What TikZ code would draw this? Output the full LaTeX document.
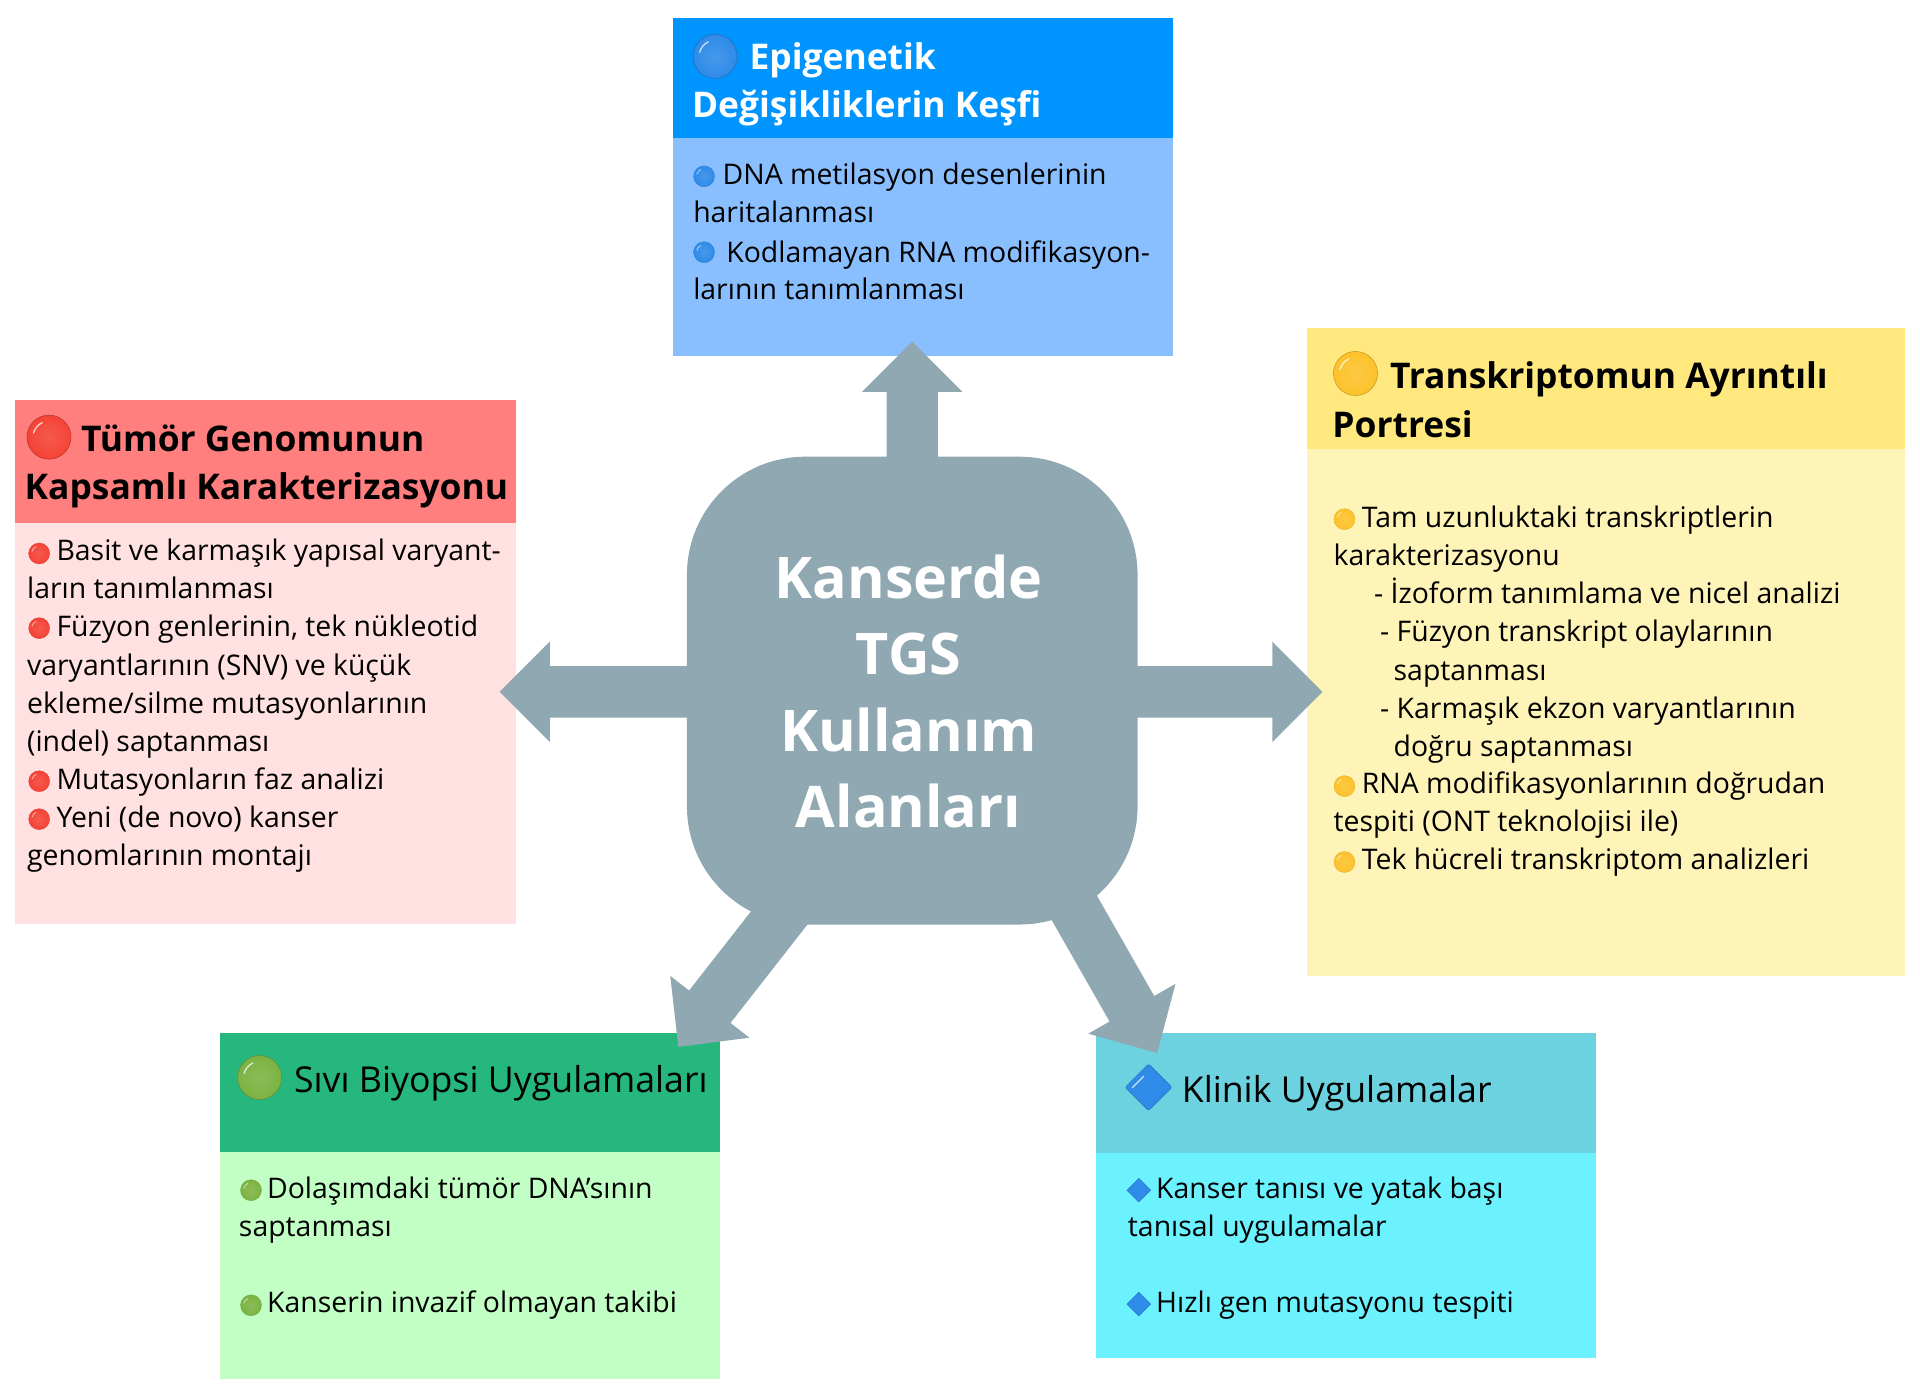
\documentclass[tikz,border=0pt]{standalone}
\usepackage{fontspec}
\setmainfont{Open Sans}
\usetikzlibrary{calc,fit,shapes.geometric}
\definecolor{hubc}{HTML}{90A8B2}
\definecolor{bluehd}{HTML}{0094FF}\definecolor{bluebd}{HTML}{8ABFFF}\definecolor{blueball}{HTML}{2E8BE8}
\definecolor{redhd}{HTML}{FF7F7F}\definecolor{redbd}{HTML}{FFE1E1}\definecolor{redball}{HTML}{F44336}
\definecolor{yelhd}{HTML}{FFE97F}\definecolor{yelbd}{HTML}{FFF4B8}\definecolor{yelball}{HTML}{FDC22B}
\definecolor{grnhd}{HTML}{26B77F}\definecolor{grnbd}{HTML}{C2FFC4}\definecolor{grnball}{HTML}{7CB342}
\definecolor{cyahd}{HTML}{6DD2E0}\definecolor{cyabd}{HTML}{6CF2FF}
\tikzset{
  panel/.style={inner sep=0pt,outer sep=0pt,draw=none},
  bodytxt/.style={anchor=base west,inner sep=0pt,font=\fontsize{28.4}{33}\selectfont,text=black},
  boldttl/.style={anchor=base west,inner sep=0pt,font=\fontsize{35.4}{40}\bfseries\selectfont,text=black},
  regttl/.style={anchor=base west,inner sep=0pt,font=\fontsize{35.7}{40}\selectfont,text=black},
  hubtxt/.style={anchor=base,inner sep=0pt,font=\fontsize{57.4}{60}\bfseries\selectfont,text=white},
  ballbig/.style={circle,inner sep=0pt,minimum size=44pt,draw=#1!80!black,line width=.6pt,
    inner color=#1!88!white,outer color=#1,
    path picture={\draw[white,opacity=.75,line width=1.3pt,line cap=round]
      (path picture bounding box.center) ++(165:16pt) arc (165:115:16pt);}},
  ballsm/.style={circle,inner sep=0pt,minimum size=21pt,draw=#1!90!black,line width=.3pt,
    inner color=#1!88!white,outer color=#1,
    path picture={\draw[white,opacity=.7,line width=.7pt,line cap=round]
      (path picture bounding box.center) ++(165:7.5pt) arc (165:115:7.5pt);}},
  diambig/.style={diamond,aspect=1,inner sep=0pt,minimum size=47pt,fill=blueball,draw=blueball!85!black,line width=.6pt,rounded corners=2pt,
    path picture={\draw[white,opacity=.75,line width=1.2pt,line cap=round]
      ($(path picture bounding box.center)+(-16pt,0pt)$) -- +(11pt,11pt);}},
  diamsm/.style={diamond,aspect=1,inner sep=0pt,minimum size=24pt,fill=blueball,draw=blueball!85!black,line width=.4pt},
  blockarrow/.style={fill=hubc,draw=none}
}
\newcommand{\mkpanel}[8]{% name x1 y1 x2 y2 yh hd bd
  \node[panel,fill=#8,fit={(#2,#3)(#4,#5)}] (#1body) {};
  \node[panel,fill=#7,fit={(#2,#3)(#4,#6)}] (#1head) {};
}
\newcommand{\barrow}[4]{% from tip headLength shaftHalf
  \coordinate (n) at ($(#2)!#3!(#1)$);
  \coordinate (s) at (#1);
  \fill[blockarrow] ($(s)!#4!90:(#2)$) -- ($(n)!#4!-90:(s)$) -- ($(n)!50.2pt!-90:(s)$) -- (#2)
     -- ($(n)!50.2pt!90:(s)$) -- ($(n)!#4!90:(s)$) -- ($(s)!#4!-90:(#2)$) -- cycle;
}
\begin{document}
\begin{tikzpicture}[x=1.2245pt,y=-1.2245pt]
\useasboundingbox (0,0) rectangle (1568,1136.8);
% panels
\mkpanel{epi}{550}{15}{958}{291}{113}{bluehd}{bluebd}
\mkpanel{tum}{12}{327}{421}{755}{427}{redhd}{redbd}
\mkpanel{tra}{1067}{268}{1556}{797}{367}{yelhd}{yelbd}
\mkpanel{siv}{180}{844}{588}{1126}{941}{grnhd}{grnbd}
\mkpanel{kli}{895}{844}{1303}{1109}{942}{cyahd}{cyabd}
% hub anchor, arrows start from it
\node[panel,minimum width=450.6pt,minimum height=467.8pt] (hub) at (745,564) {};
\coordinate (tipE) at (745,279);
\coordinate (tipT) at (408,565);
\coordinate (tipR) at (1080,565);
\coordinate (tipS) at (554,855);
\coordinate (tipK) at (945,860);
\coordinate (fromH) at ($(hub.center)+(0,1)$);
\coordinate (fromS) at ($(hub.center)+(-62,126)$);
\coordinate (fromK) at ($(hub.center)+(103,126)$);
\barrow{hub.center}{tipE}{50.2pt}{25.7pt}
\barrow{fromH}{tipT}{50.2pt}{25.7pt}
\barrow{fromH}{tipR}{50.2pt}{25.7pt}
\barrow{fromS}{tipS}{51pt}{26.3pt}
\barrow{fromK}{tipK}{51pt}{25.7pt}
\node[panel,fill=hubc,rounded corners=118pt,minimum width=450.6pt,minimum height=467.8pt] (hubfill) at (745,564) {};
\node[hubtxt] (h1) at (742,489) {Kanserde};
\node[hubtxt] (h2) at (742,551) {TGS};
\node[hubtxt] (h3) at (742,614) {Kullanım};
\node[hubtxt] (h4) at (742,676) {Alanları};
% Epigenetik
\node[ballbig=blueball] (epiB) at (584,46) {};
\node[boldttl,text=white] (epiT1) at (612,57) {Epigenetik};
\node[boldttl,text=white] (epiT2) at (565,96) {Değişikliklerin Keşfi};
\node[ballsm=blueball] (epib1) at (575,144) {};
\node[ballsm=blueball] (epib2) at (575,206) {};
\node[bodytxt] (e1) at (590,151) {DNA metilasyon desenlerinin};
\node[bodytxt] (e2) at (566,182) {haritalanması};
\node[bodytxt] (e3) at (593,214) {Kodlamayan RNA modifikasyon-};
\node[bodytxt] (e4) at (566,245) {larının tanımlanması};
% Tumor
\node[ballbig=redball] (tumB) at (40,357) {};
\node[boldttl] (tumT1) at (66,369) {Tümör Genomunun};
\node[boldttl] (tumT2) at (20,408) {Kapsamlı Karakterizasyonu};
\node[ballsm=redball] (tb1) at (32,452) {};
\node[ballsm=redball] (tb2) at (32,513) {};
\node[ballsm=redball] (tb3) at (32,638) {};
\node[ballsm=redball] (tb4) at (32,669) {};
\node[bodytxt] (t1) at (46,458) {Basit ve karmaşık yapısal varyant-};
\node[bodytxt] (t2) at (22,489) {ların tanımlanması};
\node[bodytxt] (t3) at (46,520) {Füzyon genlerinin, tek nükleotid};
\node[bodytxt] (t4) at (22,551.5) {varyantlarının (SNV) ve küçük};
\node[bodytxt] (t5) at (22,582.5) {ekleme/silme mutasyonlarının};
\node[bodytxt] (t6) at (22,613.5) {(indel) saptanması};
\node[bodytxt] (t7) at (46,645) {Mutasyonların faz analizi};
\node[bodytxt] (t8) at (46,676) {Yeni (de novo) kanser};
\node[bodytxt] (t9) at (22,707) {genomlarının montajı};
% Transkriptom
\node[ballbig=yelball] (traB) at (1107,305) {};
\node[boldttl] (traT1) at (1135,317) {Transkriptomun Ayrıntılı};
\node[boldttl] (traT2) at (1088,357) {Portresi};
\node[ballsm=yelball] (rb1) at (1098,424) {};
\node[ballsm=yelball] (rb2) at (1098,642) {};
\node[ballsm=yelball] (rb3) at (1098,704) {};
\node[bodytxt] (r1) at (1112,430.5) {Tam uzunluktaki transkriptlerin};
\node[bodytxt] (r2) at (1089,461.5) {karakterizasyonu};
\node[bodytxt] (r3) at (1122,492.5) {- İzoform tanımlama ve nicel analizi};
\node[bodytxt] (r4) at (1127,523.5) {- Füzyon transkript olaylarının};
\node[bodytxt] (r5) at (1138,555.5) {saptanması};
\node[bodytxt] (r6) at (1127,586.5) {- Karmaşık ekzon varyantlarının};
\node[bodytxt] (r7) at (1138,617.5) {doğru saptanması};
\node[bodytxt] (r8) at (1112,648) {RNA modifikasyonlarının doğrudan};
\node[bodytxt] (r9) at (1089,679) {tespiti (ONT teknolojisi ile)};
\node[bodytxt] (r10) at (1112,710) {Tek hücreli transkriptom analizleri};
% Sivi
\node[ballbig=grnball] (sivB) at (212,880) {};
\node[regttl] (sivT) at (240,892) {Sıvı Biyopsi Uygulamaları};
\node[ballsm=grnball] (sb1) at (205,972) {};
\node[ballsm=grnball] (sb2) at (205,1066) {};
\node[bodytxt] (s1) at (218,978.5) {Dolaşımdaki tümör DNA’sının};
\node[bodytxt] (s2) at (195,1009.5) {saptanması};
\node[bodytxt] (s3) at (218,1071.5) {Kanserin invazif olmayan takibi};
% Klinik
\node[diambig] (kliB) at (938,888) {};
\node[regttl] (kliT) at (965,900) {Klinik Uygulamalar};
\node[diamsm] (kb1) at (930,972) {};
\node[diamsm] (kb2) at (930,1065) {};
\node[bodytxt] (k1) at (944,978.5) {Kanser tanısı ve yatak başı};
\node[bodytxt] (k2) at (921,1009.5) {tanısal uygulamalar};
\node[bodytxt] (k3) at (944,1071.5) {Hızlı gen mutasyonu tespiti};
\end{tikzpicture}
\end{document}
